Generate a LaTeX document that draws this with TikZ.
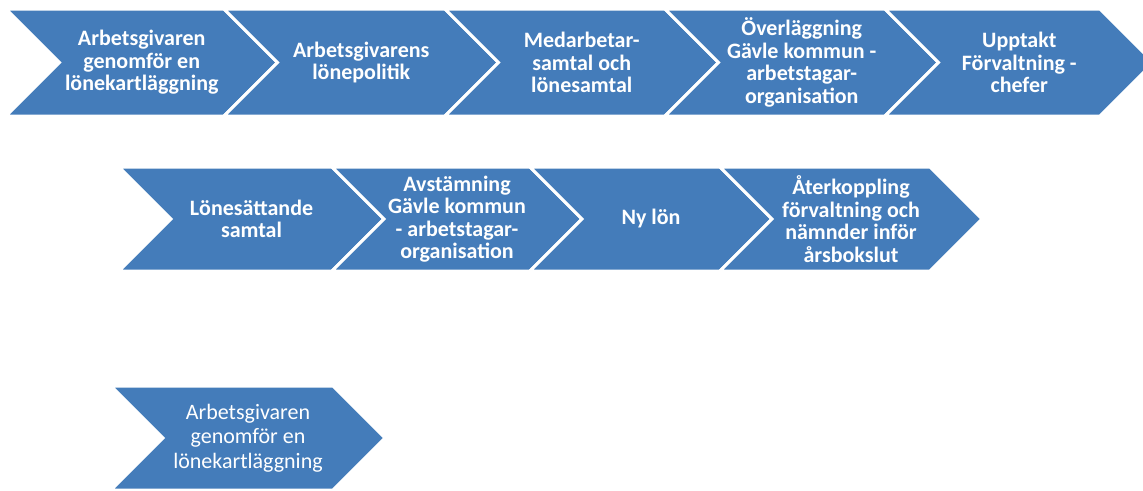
\documentclass[tikz,border=0pt]{standalone}
\usepackage{fontspec}
\setmainfont{Carlito}
\definecolor{chevblue}{HTML}{447CBA}
\tikzset{
  chev/.style={fill=chevblue, draw=white, line width=3pt, line join=miter},
  lbl/.style={text=white, align=center, inner sep=0pt, font=\bfseries\fontsize{22}{22.5}\selectfont},
  lblthin/.style={text=white, align=center, inner sep=0pt, font=\fontsize{22}{24.5}\selectfont},
}
% name, left x, right-top x, top y, bottom y, label style, text
\newcommand\mychev[7]{%
  \pgfmathsetmacro\cmY{(#4+#5)/2}%
  \pgfmathsetmacro\cmD{(#5-#4)/2}%
  \pgfmathsetmacro\cmTip{#3+\cmD}%
  \pgfmathsetmacro\cmNotch{#2+\cmD}%
  \pgfmathsetmacro\cmX{(#2+\cmD+#3)/2}%
  \draw[chev] (#2,#4) -- (#3,#4) -- (\cmTip,\cmY) -- (#3,#5) -- (#2,#5) -- (\cmNotch,\cmY) -- cycle;
  \node[#6] (#1) at (\cmX,\cmY) {#7};
}
\begin{document}
\begin{tikzpicture}[x=1pt,y=-1pt]
\useasboundingbox (0,0) rectangle (1143,490);
% row 1
\mychev{a1}{6}{224}{9}{116}{lbl}{Arbetsgivaren\\genomför en\\lönekartläggning}
\mychev{a2}{224}{445}{9}{116}{lbl}{Arbetsgivarens\\lönepolitik}
\mychev{a3}{445}{665}{9}{116}{lbl}{Medarbetar-\\samtal och\\lönesamtal}
\mychev{a4}{665}{885}{9}{116}{lbl}{Överläggning\\Gävle kommun -\\arbetstagar-\\organisation}
\mychev{a5}{885}{1100}{9}{116}{lbl}{Upptakt\\Förvaltning -\\chefer}
% row 2
\mychev{b1}{119}{332}{167}{271}{lbl}{Lönesättande\\samtal}
\mychev{b2}{332}{530}{167}{271}{lbl}{Avstämning\\Gävle kommun\\- arbetstagar-\\organisation}
\mychev{b3}{530}{720}{167}{271}{lbl}{Ny lön}
\mychev{b4}{720}{930}{167}{271}{lbl}{Återkoppling\\förvaltning och\\nämnder inför\\årsbokslut}
% row 3
\mychev{c1}{111}{333}{386}{490}{lblthin}{Arbetsgivaren\\genomför en\\lönekartläggning}
\end{tikzpicture}
\end{document}
